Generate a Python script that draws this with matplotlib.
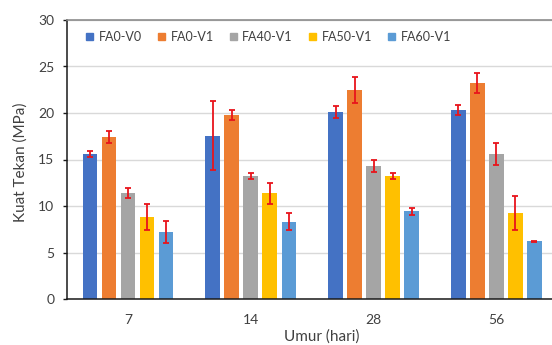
import numpy as np
import matplotlib
matplotlib.use("Agg")
import matplotlib.pyplot as plt
from matplotlib.patches import Patch

plt.rcParams['font.family'] = ['Lato', 'DejaVu Sans']

umur = ['7', '14', '28', '56']
series = ['FA0-V0', 'FA0-V1', 'FA40-V1', 'FA50-V1', 'FA60-V1']
colors = ['#4472C4', '#ED7D31', '#A5A5A5', '#FFC000', '#5B9BD5']

# kuat tekan (MPa) per series, for umur 7, 14, 28, 56
fa0_v0 = [15.6, 17.55, 20.15, 20.3]
fa0_v1 = [17.4, 19.8, 22.45, 23.2]
fa40_v1 = [11.4, 13.2, 14.3, 15.6]
fa50_v1 = [8.8, 11.35, 13.2, 9.25]
fa60_v1 = [7.2, 8.3, 9.43, 6.2]

# error (+/-)
err_fa0_v0 = [0.35, 3.7, 0.65, 0.55]
err_fa0_v1 = [0.65, 0.55, 1.4, 1.05]
err_fa40_v1 = [0.55, 0.35, 0.65, 1.2]
err_fa50_v1 = [1.4, 1.15, 0.35, 1.85]
err_fa60_v1 = [1.15, 0.9, 0.37, 0.05]

values = [fa0_v0, fa0_v1, fa40_v1, fa50_v1, fa60_v1]
errors = [err_fa0_v0, err_fa0_v1, err_fa40_v1, err_fa50_v1, err_fa60_v1]

fig = plt.figure(figsize=(5.52, 3.45), dpi=100)
# axes is cut off on the right in the original
ax = fig.add_axes([66.7 / 552, 46 / 345, 491 / 552, 279 / 345])

x = np.arange(len(umur))
step = 0.155
width = 0.12
for i in range(len(series)):
    ax.bar(x + (i - 2) * step, values[i], width, color=colors[i], zorder=2)
    ax.errorbar(x + (i - 2) * step, values[i], yerr=errors[i], fmt='none',
                ecolor='#E8141B', elinewidth=1.3, capsize=2.5, capthick=1.3, zorder=3)

ax.set_xlim(-0.5, 3.5)
ax.set_ylim(0, 30)
ax.set_yticks([0, 5, 10, 15, 20, 25, 30])
ax.set_xticks(x)
ax.set_xticklabels(umur)
ax.yaxis.grid(True, color='#D9D9D9', lw=1, zorder=0)
ax.set_axisbelow(True)

for s in ['left', 'bottom']:
    ax.spines[s].set_color('#1a1a1a')
    ax.spines[s].set_linewidth(1.1)
ax.spines['top'].set_color('#8c8c8c')
ax.spines['top'].set_linewidth(1.2)
ax.spines['right'].set_visible(False)

ax.tick_params(axis='y', length=3, width=1, color='#1a1a1a', pad=6,
               labelsize=10, labelcolor='#404040')
ax.tick_params(axis='x', length=0, pad=11, labelsize=10, labelcolor='#404040')

ax.set_ylabel('Kuat Tekan (MPa)', fontsize=11, color='#404040')
ax.set_xlabel('Umur (hari)', fontsize=11, color='#404040')
ax.yaxis.set_label_coords(-0.08, 0.49)
ax.xaxis.set_label_coords(0.52, -0.108)

handles = [Patch(color=c, label=s) for s, c in zip(series, colors)]
fig.legend(handles=handles, loc='center left', bbox_to_anchor=(86 / 552, 1 - 37 / 345),
           ncol=5, frameon=False, fontsize=9, handlelength=0.55, handleheight=0.55,
           handletextpad=0.45, columnspacing=1.3, borderpad=0, borderaxespad=0,
           labelcolor='#404040')

fig.savefig('out.png', dpi=100)
